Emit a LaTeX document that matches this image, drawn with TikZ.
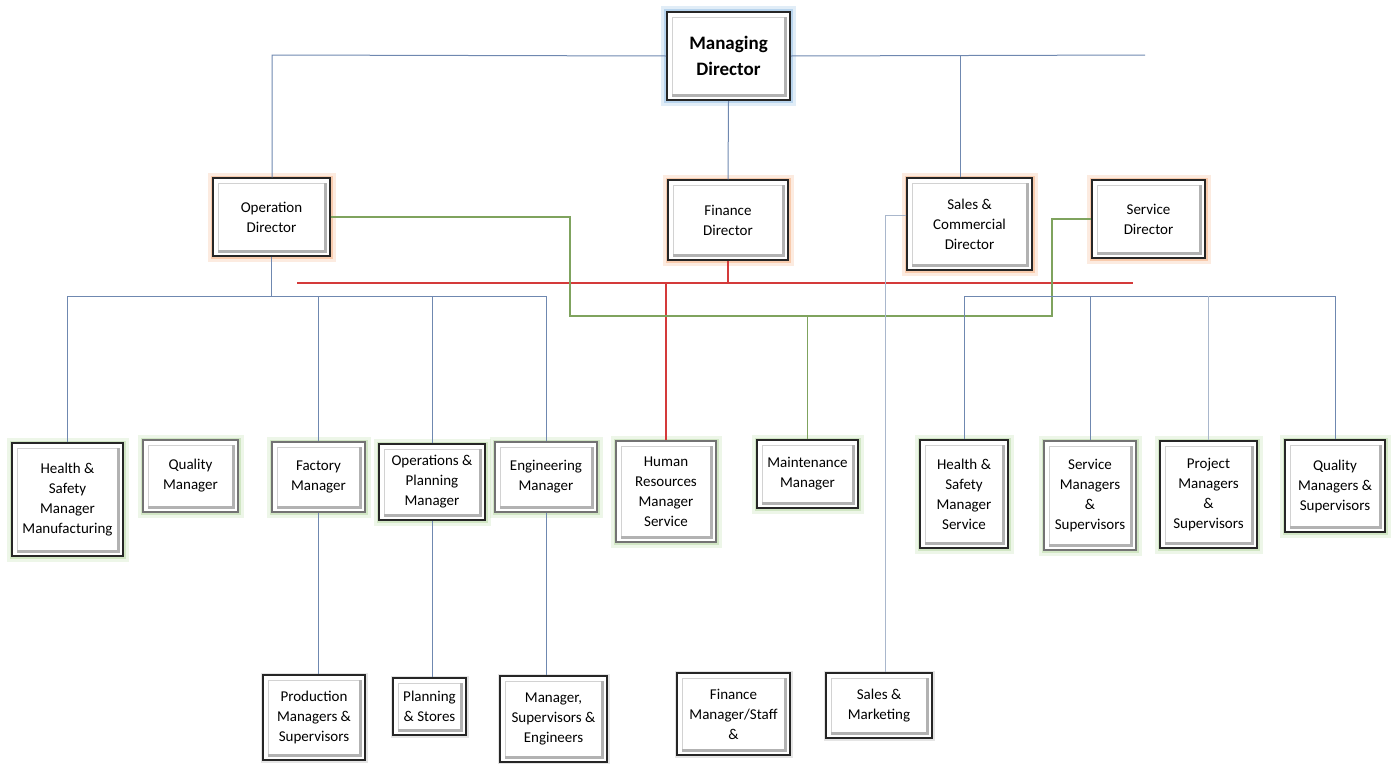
\documentclass[tikz,border=0pt]{standalone}
\usepackage{fontspec}
\setmainfont{Carlito}
\definecolor{lnblue}{HTML}{6F88B0}
\definecolor{lngreen}{HTML}{7FA35E}
\definecolor{lnred}{HTML}{D43A3A}
\definecolor{lnlight}{HTML}{A9B7CC}
\definecolor{glowor}{HTML}{F4B183}
\definecolor{glowgr}{HTML}{C5E0B4}
\definecolor{glowbl}{HTML}{9DC3E6}
\tikzset{
  bevel/.style={path picture={
    \coordinate (bsw) at ([xshift=5pt,yshift=5pt]path picture bounding box.south west);
    \coordinate (bne) at ([xshift=-5pt,yshift=-5pt]path picture bounding box.north east);
    \draw[gray!35, line width=1pt] (bsw) -- (bsw|-bne) -- (bne);
    \draw[gray!60, line width=3pt] (bsw) -- (bsw-|bne) -- (bne);
  }},
  box/.style={draw=black!85, line width=1.3pt, fill=white, bevel},
  softbox/.style={box, draw=black!55},
  orglow/.style={preaction={draw=glowor, line width=11pt, opacity=0.25}, preaction={draw=glowor, line width=5pt, opacity=0.55}},
  grglow/.style={preaction={draw=glowgr, line width=11pt, opacity=0.3}, preaction={draw=glowgr, line width=5pt, opacity=0.7}},
  blglow/.style={preaction={draw=glowbl, line width=12pt, opacity=0.3}, preaction={draw=glowbl, line width=6pt, opacity=0.6}},
  gyglow/.style={preaction={draw=gray!40, line width=5pt, opacity=0.5}},
  lnb/.style={draw=lnblue, line width=1pt},
  lng/.style={draw=lngreen, line width=1.1pt},
  lnr/.style={draw=lnred, line width=1.6pt},
  lnl/.style={draw=lnlight, line width=1pt},
}
\begin{document}
\begin{tikzpicture}[x=1pt,y=-1pt,
  every node/.style={font=\fontsize{15}{20}\selectfont, align=center, inner sep=0pt}]
\useasboundingbox (0,0) rectangle (1391,763);

% top
\node[box, blglow, line width=2pt, minimum width=123pt, minimum height=88pt, font=\fontsize{19}{26}\selectfont\bfseries] (md) at (728.5,56) {Managing\\Director};

% directors
\node[box, orglow, minimum width=117pt, minimum height=78pt] (opd) at (271.5,217) {Operation\\Director};
\node[box, orglow, minimum width=120pt, minimum height=80pt] (fin) at (728,220) {Finance\\Director};
\node[box, orglow, minimum width=125pt, minimum height=92pt] (sales) at (969.5,224) {Sales \&\\Commercial\\Director};
\node[box, orglow, minimum width=113pt, minimum height=78pt] (serv) at (1148.5,219) {Service\\Director};

% middle row
\node[box, grglow, minimum width=111pt, minimum height=113pt] (hsm) at (67.5,499.5) {Health \&\\Safety\\Manager\\Manufacturing};
\node[softbox, grglow, minimum width=95pt, minimum height=72pt] (qm) at (190.5,476) {Quality\\Manager};
\node[softbox, grglow, minimum width=93pt, minimum height=70pt] (fm) at (318.5,477) {Factory\\Manager};
\node[box, grglow, minimum width=106pt, minimum height=76pt] (opm) at (432,482) {Operations \&\\Planning\\Manager};
\node[softbox, grglow, minimum width=102pt, minimum height=70pt] (em) at (546,477) {Engineering\\Manager};
\node[softbox, grglow, minimum width=100pt, minimum height=101pt] (hr) at (666,491.5) {Human\\Resources\\Manager\\Service};
\node[box, grglow, minimum width=101pt, minimum height=68pt] (mm) at (807.5,474) {Maintenance\\Manager};
\node[box, grglow, minimum width=88pt, minimum height=108pt] (hss) at (964,494) {Health \&\\Safety\\Manager\\Service};
\node[softbox, grglow, minimum width=92pt, minimum height=109pt] (sms) at (1090,495.5) {Service\\Managers\\\&\\Supervisors};
\node[box, grglow, minimum width=97pt, minimum height=107pt] (pms) at (1208.5,494.5) {Project\\Managers\\\&\\Supervisors};
\node[box, grglow, minimum width=100pt, minimum height=92pt] (qms) at (1335,486) {Quality\\Managers \&\\Supervisors};

% bottom row
\node[box, gyglow, minimum width=102pt, minimum height=85pt] (pm) at (314,717.5) {Production\\Managers \&\\Supervisors};
\node[box, gyglow, minimum width=73pt, minimum height=57pt] (ps) at (429.5,706.5) {Planning\\\& Stores};
\node[box, gyglow, minimum width=107pt, minimum height=86pt] (mse) at (553.5,719) {Manager,\\Supervisors \&\\Engineers};
\node[box, gyglow, minimum width=113pt, minimum height=82pt] (fms) at (733.5,714) {Finance\\Manager/Staff\\\&};
\node[box, gyglow, minimum width=106pt, minimum height=65pt] (sm) at (879,705.5) {Sales \&\\Marketing};

% coordinates
\coordinate (tl) at (272,55);
\coordinate (tr) at (1145,55);
\coordinate (ts) at (960,55);
\coordinate (lbus) at (0,296);
\coordinate (rbus) at (0,296);
\coordinate (redbus) at (0,283);
\coordinate (redl) at (297,283);
\coordinate (redr) at (1133,283);
\coordinate (gbus) at (0,316);
\coordinate (gl) at (570,316);
\coordinate (gr) at (1052,219);
\coordinate (sx) at (885,0);

% top connectors
\draw[lnb] (md.west) -- (tl) -- (tl |- opd.north);
\draw[lnb] (md.east) -- (tr);
\draw[lnb] (ts) -- (ts |- sales.north);
\draw[lnb] (md.south) -- (fin.north);

% operation director bus
\draw[lnb] (opd.south) -- (opd.south |- lbus);
\draw[lnb] (hsm.north |- lbus) -- (em.north |- lbus);
\foreach \n in {hsm,fm,opm,em} \draw[lnb] (\n.north) -- (\n.north |- lbus);

% red (finance)
\draw[lnr] (fin.south) -- (fin.south |- redbus);
\draw[lnr] (redl) -- (redr);
\draw[lnr] (hr.north) -- (hr.north |- redbus);

% green
\draw[lng] (opd.east) -| (gl) -| (gr) -- (serv.west);
\draw[lng] (mm.north) -- (mm.north |- gbus);

% sales & commercial
\draw[lnl] ([yshift=9pt]sales.west) -| (sx |- sm.north);

% right bus
\draw[lnb] (hss.north |- rbus) -- (qms.north |- rbus);
\foreach \n in {hss,sms,qms} \draw[lnb] (\n.north) -- (\n.north |- rbus);
\draw[lnl] (pms.north) -- (pms.north |- rbus);

% lower connectors
\draw[lnb] (fm.south) -- (fm.south |- pm.north);
\draw[lnb] (opm.south) -- (opm.south |- ps.north);
\draw[lnb] (em.south) -- (em.south |- mse.north);
\end{tikzpicture}
\end{document}
